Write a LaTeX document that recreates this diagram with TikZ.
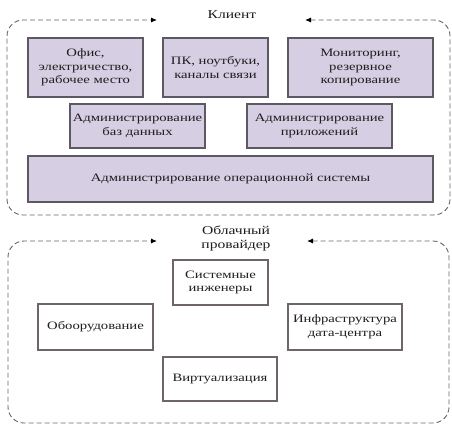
\documentclass[tikz,border=0pt]{standalone}
\usepackage{fontspec}
\setmainfont[FakeStretch=1.3]{Liberation Serif}
\usetikzlibrary{arrows.meta}
\definecolor{boxfill}{HTML}{D6CEE3}
\definecolor{boxline}{HTML}{5E5862}
\definecolor{wline}{HTML}{6E6666}
\definecolor{dashc}{HTML}{666666}
\definecolor{txt}{HTML}{1E1E1E}
\begin{document}
\begin{tikzpicture}[x=1pt,y=-1pt,
  lbl/.style={font=\fontsize{11.3}{13.5}\selectfont, text=txt, align=center},
  ttl/.style={font=\fontsize{12}{14}\selectfont, text=txt, align=center},
  pbox/.style={lbl, draw=boxline, fill=boxfill, line width=1.2pt, inner sep=0pt},
  wbox/.style={lbl, draw=wline, fill=white, line width=1.2pt, inner sep=0pt},
  cont/.style={draw=dashc, dash pattern=on 5pt off 3pt, line width=0.9pt, rounded corners=16pt,
    {Latex[length=6pt,width=5pt,color=black]}-{Latex[length=6pt,width=5pt,color=black]}}]
\useasboundingbox (0,0) rectangle (452,426);
\fill[white] (0,0) rectangle (452,426);
% client container
\coordinate (ca) at (305,20);
\coordinate (cb) at (157,20);
\draw[cont] (ca) -- (450,20) -- (450,215) -- (7,215) -- (7,20) -- (cb);
\node[ttl] (client) at (232,15) {Клиент};
\node[pbox, minimum width=115pt, minimum height=59pt] (office) at (85.5,67.5) {Офис,\\электричество,\\рабочее место};
\node[pbox, minimum width=105pt, minimum height=59pt] (pc) at (215.5,67.5) {ПК, ноутбуки,\\каналы связи};
\node[pbox, minimum width=145pt, minimum height=59pt] (mon) at (360.5,67.5) {Мониторинг,\\резервное\\копирование};
\node[pbox, minimum width=135pt, minimum height=44pt] (db) at (137.5,126) {Администрирование\\баз данных};
\node[pbox, minimum width=145pt, minimum height=44pt] (app) at (319.5,126) {Администрирование\\приложений};
\node[pbox, minimum width=405pt, minimum height=46pt] (os) at (230.5,179) {Администрирование операционной системы};
% provider container
\coordinate (pa) at (307,241);
\coordinate (pb) at (157,241);
\draw[cont] (pa) -- (449,241) -- (449,423) -- (8,423) -- (8,241) -- (pb);
\node[ttl] (prov) at (236,238) {Облачный\\провайдер};
\node[wbox, minimum width=95pt, minimum height=45pt] (eng) at (220.5,282.5) {Системные\\инженеры};
\node[wbox, minimum width=115pt, minimum height=46pt] (hw) at (95.5,327) {Обоорудование};
\node[wbox, minimum width=114pt, minimum height=46pt] (dc) at (345,327) {Инфраструктура\\дата-центра};
\node[wbox, minimum width=114pt, minimum height=44pt] (virt) at (220,379) {Виртуализация};
\end{tikzpicture}
\end{document}
